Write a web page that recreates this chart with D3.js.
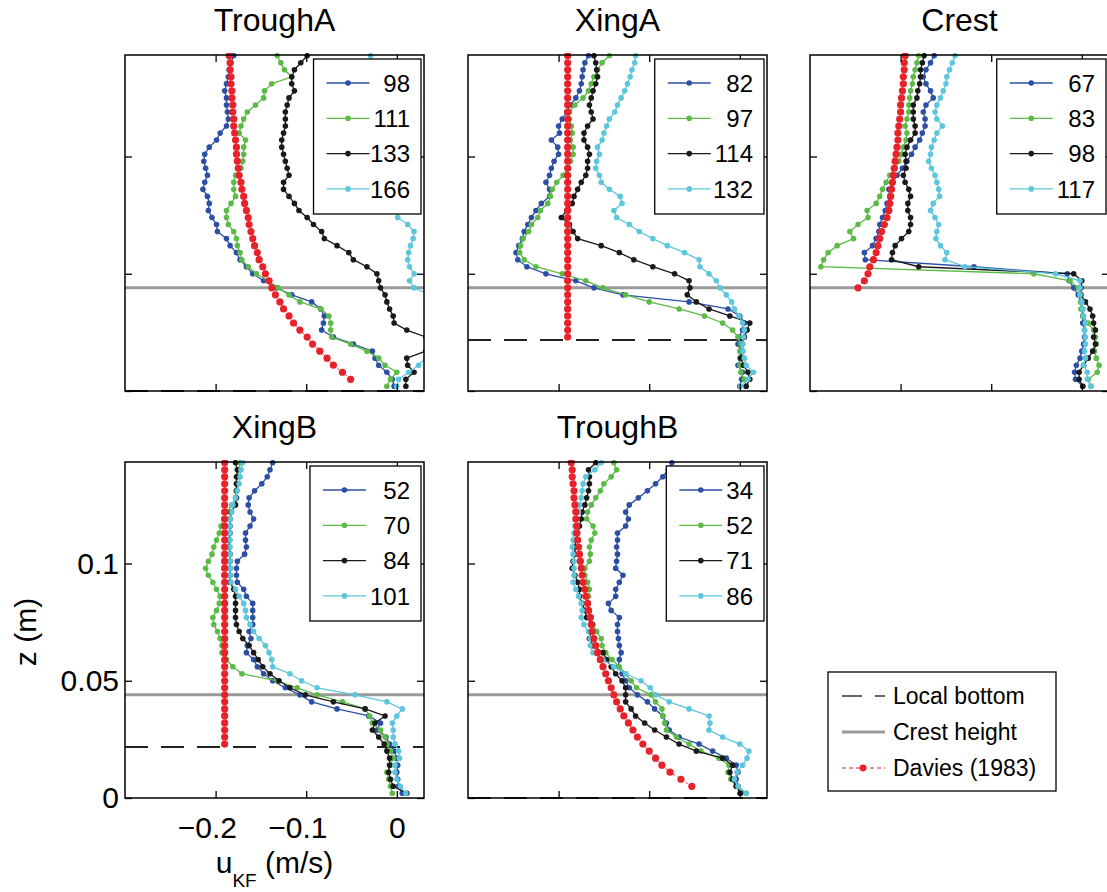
<!DOCTYPE html>
<html>
<head>
<meta charset="utf-8">
<script src="https://cdn.jsdelivr.net/npm/d3@7"></script>
<style>
  body { margin: 0; background: #fff; }
  text { font-family: "Liberation Sans", Arial, Helvetica, sans-serif; fill: #000; }
</style>
</head>
<body>
<main></main>
<script>
// measurement heights (m), shared by every profile
const zLevels = [
  0.002, 0.005, 0.008, 0.011, 0.014, 0.017, 0.020, 0.023, 0.026, 0.029,
  0.032, 0.035, 0.038, 0.041, 0.044, 0.047, 0.050, 0.053, 0.056, 0.059,
  0.062, 0.065, 0.068, 0.071, 0.074, 0.077, 0.080, 0.083, 0.086, 0.089,
  0.092, 0.095, 0.098, 0.101, 0.104, 0.107, 0.110, 0.113, 0.116, 0.119,
  0.122, 0.125, 0.128, 0.131, 0.134, 0.137, 0.140, 0.143
];
const crestHeight = 0.044;
const xTicks = [-0.2, -0.1, 0];
const yTicks = [0, 0.05, 0.1];
const panelTitles = ["TroughA", "XingA", "Crest", "XingB", "TroughB"];
const localBottoms = [0, 0.0217, null, 0.0217, 0];
const keyLabels = ["Local bottom", "Crest height", "Davies (1983)"];

// ---- TroughA
const troughALabels = ["98", "111", "133", "166"];
const troughA98 = [
  -0.003, -0.005, -0.011, -0.020, -0.024, -0.027, -0.048, -0.070, -0.083, -0.081,
  -0.080, -0.084, -0.094, -0.116, -0.133, -0.147, -0.159, -0.166, -0.173, -0.177,
  -0.184, -0.188, -0.198, -0.199, -0.204, -0.208, -0.207, -0.209, -0.214, -0.212,
  -0.209, -0.211, -0.213, -0.212, -0.207, -0.199, -0.195, -0.188, -0.186, -0.187,
  -0.188, -0.188, -0.190, -0.188, -0.186, -0.185, -0.183, -0.180
];
const troughA111 = [
  -0.011, -0.007, 0.000, -0.013, -0.020, -0.033, -0.051, -0.072, -0.073, -0.073,
  -0.075, -0.084, -0.107, -0.119, -0.131, -0.142, -0.155, -0.164, -0.171, -0.173,
  -0.176, -0.177, -0.180, -0.186, -0.188, -0.188, -0.183, -0.178, -0.180, -0.180,
  -0.178, -0.172, -0.170, -0.169, -0.169, -0.167, -0.174, -0.172, -0.169, -0.165,
  -0.156, -0.147, -0.146, -0.138, -0.116, -0.124, -0.128, -0.132
];
const troughA133 = [
  0.010, 0.010, 0.019, 0.012, 0.011, 0.032, 0.045, 0.032, 0.011, -0.003,
  -0.004, -0.008, -0.011, -0.013, -0.018, -0.020, -0.022, -0.033, -0.048, -0.053,
  -0.066, -0.080, -0.083, -0.092, -0.099, -0.108, -0.113, -0.119, -0.125, -0.125,
  -0.119, -0.121, -0.123, -0.125, -0.127, -0.127, -0.125, -0.123, -0.123, -0.123,
  -0.121, -0.119, -0.113, -0.116, -0.116, -0.113, -0.106, -0.099
];
const troughA166 = [
  0.000, 0.002, 0.013, 0.024, 0.032, 0.039, 0.045, 0.048, 0.050, 0.048,
  0.045, 0.040, 0.035, 0.036, 0.019, 0.014, 0.019, 0.014, 0.012, 0.013,
  0.015, 0.018, 0.019, 0.012, 0.001, 0.000, -0.004, -0.006, -0.008, -0.010,
  -0.008, -0.012, -0.014, -0.012, -0.016, -0.018, -0.015, -0.020, -0.022, -0.020,
  -0.024, -0.022, -0.025, -0.026, -0.024, -0.027, -0.028, -0.029
];
const troughADavies = [
  null, -0.051, -0.060, -0.070, -0.077, -0.085, -0.093, -0.099, -0.107, -0.114,
  -0.119, -0.125, -0.129, -0.134, -0.138, -0.141, -0.145, -0.148, -0.152, -0.154,
  -0.157, -0.159, -0.161, -0.163, -0.164, -0.166, -0.168, -0.169, -0.171, -0.172,
  -0.174, -0.175, -0.176, -0.177, -0.177, -0.178, -0.179, -0.180, -0.180, -0.181,
  -0.181, -0.182, -0.182, -0.183, -0.183, -0.184, -0.184, -0.185
];

// ---- XingA
const xingALabels = ["82", "97", "114", "132"];
const xingA82 = [
  0.000, 0.002, 0.003, -0.002, 0.001, 0.001, -0.002, -0.001, 0.003, 0.005,
  0.000, -0.013, -0.056, -0.129, -0.161, -0.181, -0.214, -0.235, -0.245, -0.247,
  -0.244, -0.240, -0.238, -0.234, -0.230, -0.225, -0.219, -0.210, -0.210, -0.214,
  -0.210, -0.208, -0.205, -0.200, -0.201, -0.208, -0.199, -0.200, -0.196, -0.191,
  -0.187, -0.181, -0.177, -0.175, -0.174, -0.173, -0.171, -0.167
];
const xingA97 = [
  0.007, 0.005, 0.001, 0.000, 0.000, 0.000, 0.001, -0.002, -0.008, -0.019,
  -0.039, -0.067, -0.100, -0.126, -0.151, -0.170, -0.196, -0.225, -0.238, -0.243,
  -0.242, -0.239, -0.233, -0.230, -0.223, -0.220, -0.212, -0.209, -0.207, -0.202,
  -0.195, -0.189, -0.187, -0.184, -0.184, -0.187, -0.185, -0.186, -0.188, -0.188,
  -0.182, -0.173, -0.167, -0.164, -0.161, -0.157, -0.152, -0.144
];
const xingA114 = [
  0.007, 0.011, 0.009, 0.004, 0.001, 0.003, 0.003, 0.005, 0.008, 0.011,
  -0.011, -0.034, -0.048, -0.058, -0.055, -0.056, -0.072, -0.096, -0.117, -0.133,
  -0.153, -0.179, -0.184, -0.188, -0.197, -0.191, -0.185, -0.183, -0.179, -0.175,
  -0.170, -0.168, -0.168, -0.166, -0.168, -0.172, -0.172, -0.168, -0.162, -0.164,
  -0.166, -0.164, -0.162, -0.159, -0.157, -0.158, -0.159, -0.161
];
const xingA132 = [
  0.001, 0.009, 0.015, 0.007, 0.005, 0.003, 0.003, 0.004, 0.005, 0.003,
  -0.001, -0.006, -0.009, -0.015, -0.022, -0.026, -0.034, -0.044, -0.045, -0.061,
  -0.080, -0.096, -0.111, -0.122, -0.136, -0.139, -0.130, -0.132, -0.144, -0.153,
  -0.155, -0.159, -0.158, -0.155, -0.157, -0.152, -0.150, -0.147, -0.144, -0.138,
  -0.135, -0.131, -0.127, -0.124, -0.121, -0.119, -0.116, -0.115
];
const xingADavies = [
  null, null, null, null, null, null, null, -0.190, -0.190, -0.190,
  -0.190, -0.190, -0.190, -0.190, -0.190, -0.190, -0.190, -0.190, -0.190, -0.190,
  -0.190, -0.190, -0.190, -0.190, -0.190, -0.190, -0.190, -0.190, -0.190, -0.190,
  -0.190, -0.190, -0.190, -0.190, -0.190, -0.190, -0.190, -0.190, -0.190, -0.190,
  -0.190, -0.190, -0.190, -0.190, -0.190, -0.190, -0.190, -0.190
];

// ---- Crest
const crestLabels = ["67", "83", "98", "117"];
const crest67 = [
  0.001, -0.007, -0.008, -0.006, -0.002, 0.000, 0.002, 0.003, 0.003, 0.001,
  0.001, 0.001, -0.001, -0.004, -0.009, -0.014, -0.016, -0.119, -0.239, -0.240,
  -0.231, -0.227, -0.224, -0.223, -0.220, -0.217, -0.215, -0.212, -0.213, -0.209,
  -0.204, -0.198, -0.193, -0.188, -0.184, -0.179, -0.176, -0.173, -0.173, -0.175,
  -0.172, -0.164, -0.167, -0.172, -0.175, -0.172, -0.167, -0.163
];
const crest83 = [
  0.010, 0.007, 0.017, 0.019, 0.016, 0.014, 0.016, 0.015, 0.013, 0.007,
  0.001, -0.001, -0.001, -0.002, -0.004, -0.013, -0.053, -0.288, -0.285, -0.280,
  -0.270, -0.252, -0.256, -0.247, -0.236, -0.237, -0.227, -0.223, -0.220, -0.216,
  -0.212, -0.206, -0.202, -0.199, -0.197, -0.194, -0.193, -0.195, -0.193, -0.191,
  -0.191, -0.190, -0.189, -0.187, -0.186, -0.184, -0.182, -0.180
];
const crest98 = [
  0.001, -0.003, -0.003, 0.002, 0.007, 0.012, 0.015, 0.013, 0.015, 0.013,
  0.012, 0.009, 0.004, -0.001, -0.001, 0.000, -0.009, -0.180, -0.210, -0.209,
  -0.206, -0.199, -0.191, -0.189, -0.189, -0.192, -0.192, -0.189, -0.191, -0.195,
  -0.197, -0.194, -0.194, -0.195, -0.193, -0.189, -0.184, -0.184, -0.186, -0.186,
  -0.186, -0.182, -0.181, -0.179, -0.178, -0.178, -0.176, -0.174
];
const crest117 = [
  0.010, 0.006, 0.006, 0.002, 0.004, 0.003, 0.004, 0.004, 0.003, 0.004,
  0.002, 0.001, 0.000, -0.002, -0.002, -0.002, -0.029, -0.129, -0.151, -0.149,
  -0.156, -0.161, -0.160, -0.158, -0.162, -0.167, -0.164, -0.157, -0.158, -0.160,
  -0.162, -0.166, -0.169, -0.167, -0.166, -0.163, -0.160, -0.154, -0.160, -0.162,
  -0.160, -0.156, -0.153, -0.150, -0.149, -0.146, -0.143, -0.140
];
const crestDavies = [
  null, null, null, null, null, null, null, null, null, null,
  null, null, null, null, -0.247, -0.240, -0.236, -0.234, -0.230, -0.227,
  -0.225, -0.223, -0.221, -0.218, -0.215, -0.213, -0.212, -0.211, -0.210, -0.209,
  -0.208, -0.207, -0.206, -0.205, -0.204, -0.203, -0.203, -0.202, -0.201, -0.200,
  -0.200, -0.199, -0.198, -0.197, -0.197, -0.196, -0.196, -0.195
];

// ---- XingB
const xingBLabels = ["52", "70", "84", "101"];
const xingB52 = [
  0.006, 0.002, 0.001, 0.000, 0.001, 0.000, -0.003, -0.008, -0.012, -0.022,
  -0.018, -0.031, -0.066, -0.094, -0.107, -0.123, -0.137, -0.147, -0.154, -0.158,
  -0.166, -0.165, -0.161, -0.163, -0.159, -0.159, -0.159, -0.159, -0.166, -0.169,
  -0.176, -0.177, -0.177, -0.176, -0.168, -0.166, -0.167, -0.167, -0.162, -0.158,
  -0.162, -0.164, -0.163, -0.157, -0.149, -0.143, -0.140, -0.137
];
const xingB70 = [
  -0.005, -0.007, -0.009, -0.011, -0.007, -0.004, -0.007, -0.011, -0.013, -0.018,
  -0.027, -0.030, -0.035, -0.060, -0.088, -0.110, -0.132, -0.171, -0.181, -0.188,
  -0.193, -0.193, -0.195, -0.198, -0.202, -0.203, -0.199, -0.196, -0.195, -0.199,
  -0.203, -0.208, -0.211, -0.208, -0.204, -0.202, -0.199, -0.196, -0.194, -0.191,
  -0.188, -0.182, -0.178, -0.177, -0.177, -0.176, -0.174, -0.173
];
const xingB84 = [
  0.011, -0.004, -0.007, -0.009, -0.008, -0.008, -0.011, -0.014, -0.020, -0.027,
  -0.024, -0.013, -0.035, -0.070, -0.101, -0.118, -0.130, -0.140, -0.148, -0.153,
  -0.158, -0.163, -0.170, -0.174, -0.177, -0.178, -0.178, -0.178, -0.178, -0.180,
  -0.184, -0.184, -0.184, -0.184, -0.184, -0.185, -0.185, -0.184, -0.184, -0.184,
  -0.183, -0.178, -0.177, -0.177, -0.177, -0.177, -0.176, -0.178
];
const xingB101 = [
  0.010, 0.004, 0.000, -0.002, -0.002, 0.003, 0.002, -0.002, -0.004, -0.004,
  -0.005, 0.000, 0.006, -0.011, -0.046, -0.088, -0.105, -0.118, -0.137, -0.138,
  -0.141, -0.145, -0.152, -0.158, -0.162, -0.166, -0.167, -0.169, -0.174, -0.178,
  -0.183, -0.184, -0.184, -0.184, -0.184, -0.184, -0.184, -0.184, -0.184, -0.184,
  -0.182, -0.181, -0.178, -0.176, -0.174, -0.173, -0.172, -0.170
];
const xingBDavies = [
  null, null, null, null, null, null, null, -0.190, -0.190, -0.190,
  -0.190, -0.190, -0.190, -0.190, -0.190, -0.190, -0.190, -0.190, -0.190, -0.190,
  -0.190, -0.190, -0.190, -0.190, -0.190, -0.190, -0.190, -0.190, -0.190, -0.190,
  -0.190, -0.190, -0.190, -0.190, -0.190, -0.190, -0.190, -0.190, -0.190, -0.190,
  -0.190, -0.190, -0.190, -0.190, -0.190, -0.190, -0.190, -0.190
];

// ---- TroughB
const troughBLabels = ["34", "52", "71", "86"];
const troughB34 = [
  0.000, -0.002, -0.004, -0.002, -0.004, -0.015, -0.030, -0.045, -0.067, -0.078,
  -0.081, -0.085, -0.094, -0.102, -0.113, -0.122, -0.126, -0.130, -0.134, -0.133,
  -0.131, -0.133, -0.134, -0.135, -0.135, -0.133, -0.142, -0.145, -0.137, -0.137,
  -0.133, -0.129, -0.137, -0.136, -0.135, -0.136, -0.135, -0.135, -0.126, -0.123,
  -0.126, -0.122, -0.112, -0.102, -0.093, -0.085, -0.079, -0.075
];
const troughB52 = [
  0.007, -0.004, -0.010, -0.013, -0.012, -0.023, -0.043, -0.056, -0.070, -0.081,
  -0.083, -0.085, -0.086, -0.093, -0.098, -0.114, -0.120, -0.126, -0.133, -0.141,
  -0.148, -0.152, -0.153, -0.158, -0.162, -0.164, -0.166, -0.168, -0.167, -0.166,
  -0.168, -0.171, -0.171, -0.166, -0.165, -0.166, -0.164, -0.160, -0.162, -0.169,
  -0.168, -0.164, -0.159, -0.154, -0.150, -0.142, -0.136, -0.139
];
const troughB71 = [
  0.001, -0.004, -0.008, -0.011, -0.008, -0.019, -0.048, -0.067, -0.081, -0.094,
  -0.105, -0.115, -0.120, -0.126, -0.126, -0.126, -0.130, -0.137, -0.142, -0.147,
  -0.151, -0.162, -0.166, -0.164, -0.163, -0.169, -0.171, -0.174, -0.177, -0.177,
  -0.179, -0.182, -0.185, -0.184, -0.182, -0.182, -0.181, -0.179, -0.177, -0.175,
  -0.174, -0.171, -0.169, -0.167, -0.166, -0.166, -0.167, -0.159
];
const troughB86 = [
  0.007, -0.002, -0.006, -0.003, 0.003, 0.008, 0.010, 0.000, -0.019, -0.034,
  -0.033, -0.034, -0.056, -0.078, -0.093, -0.099, -0.109, -0.126, -0.139, -0.151,
  -0.162, -0.165, -0.165, -0.167, -0.172, -0.175, -0.174, -0.175, -0.178, -0.181,
  -0.184, -0.183, -0.183, -0.183, -0.184, -0.185, -0.184, -0.183, -0.182, -0.180,
  -0.178, -0.177, -0.175, -0.174, -0.173, -0.170, -0.160, -0.153
];
const troughBDavies = [
  null, -0.053, -0.065, -0.077, -0.086, -0.093, -0.100, -0.107, -0.113, -0.118,
  -0.123, -0.128, -0.132, -0.136, -0.139, -0.142, -0.145, -0.148, -0.151, -0.154,
  -0.157, -0.159, -0.161, -0.163, -0.164, -0.165, -0.167, -0.168, -0.170, -0.171,
  -0.173, -0.174, -0.175, -0.176, -0.177, -0.178, -0.179, -0.180, -0.180, -0.181,
  -0.181, -0.182, -0.183, -0.183, -0.184, -0.185, -0.185, -0.186
];

const seriesColors = ["#2c4fa6", "#5cba46", "#1a1a1a", "#5cc7dc"];
const daviesColor = "#e8222b";

const panels = [
  { title: panelTitles[0], col: 0, row: 0, labels: troughALabels, series: [troughA98, troughA111, troughA133, troughA166], davies: troughADavies, bottom: localBottoms[0] },
  { title: panelTitles[1], col: 1, row: 0, labels: xingALabels, series: [xingA82, xingA97, xingA114, xingA132], davies: xingADavies, bottom: localBottoms[1] },
  { title: panelTitles[2], col: 2, row: 0, labels: crestLabels, series: [crest67, crest83, crest98, crest117], davies: crestDavies, bottom: localBottoms[2] },
  { title: panelTitles[3], col: 0, row: 1, labels: xingBLabels, series: [xingB52, xingB70, xingB84, xingB101], davies: xingBDavies, bottom: localBottoms[3], axisLabels: true },
  { title: panelTitles[4], col: 1, row: 1, labels: troughBLabels, series: [troughB34, troughB52, troughB71, troughB86], davies: troughBDavies, bottom: localBottoms[4] }
];

const width = 1107;
const height = 892;
const panelW = 299;
const panelH = 336;
const colLeft = [125, 468, 810];
const rowTop = [55, 462];

const xScale = d3.scaleLinear().domain([-0.3, 0.03]).range([0, panelW]);
const yScale = d3.scaleLinear().domain([0, 0.1433]).range([panelH, 0]);

const line = d3.line()
  .defined(d => d.u != null)
  .x(d => xScale(d.u))
  .y(d => yScale(d.z));

const fmt = d => d < 0 ? "\u2212" + Math.abs(d) : String(d);

const svg = d3.select("main")
  .append("svg")
  .attr("width", width)
  .attr("height", height);

panels.forEach((p, pi) => {
  const g = svg.append("g")
    .attr("transform", `translate(${colLeft[p.col]},${rowTop[p.row]})`);

  g.append("clipPath")
    .attr("id", "clip" + pi)
    .append("rect")
    .attr("x", 0).attr("y", -2)
    .attr("width", panelW).attr("height", panelH + 4);

  const plot = g.append("g").attr("clip-path", `url(#clip${pi})`);

  plot.append("line")
    .attr("x1", 0).attr("x2", panelW)
    .attr("y1", yScale(crestHeight)).attr("y2", yScale(crestHeight))
    .attr("stroke", "#9a9a9a")
    .attr("stroke-width", 3);

  if (p.bottom != null) {
    plot.append("line")
      .attr("x1", 0).attr("x2", panelW)
      .attr("y1", yScale(p.bottom)).attr("y2", yScale(p.bottom))
      .attr("stroke", "#222")
      .attr("stroke-width", 2)
      .attr("stroke-dasharray", "23,13");
  }

  p.series.forEach((s, si) => {
    const pts = zLevels.map((z, i) => ({ z: z, u: s[i] }));
    plot.append("path")
      .datum(pts)
      .attr("d", line)
      .attr("fill", "none")
      .attr("stroke", seriesColors[si])
      .attr("stroke-width", 1.3);
    plot.append("g")
      .selectAll("circle")
      .data(pts.filter(d => d.u != null))
      .enter()
      .append("circle")
      .attr("cx", d => xScale(d.u))
      .attr("cy", d => yScale(d.z))
      .attr("r", 2.8)
      .attr("fill", seriesColors[si]);
  });

  const dav = zLevels.map((z, i) => ({ z: z, u: p.davies[i] }));
  plot.append("path")
    .datum(dav)
    .attr("d", line)
    .attr("fill", "none")
    .attr("stroke", daviesColor)
    .attr("stroke-width", 1)
    .attr("stroke-dasharray", "2,3");
  plot.append("g")
    .selectAll("circle")
    .data(dav.filter(d => d.u != null))
    .enter()
    .append("circle")
    .attr("cx", d => xScale(d.u))
    .attr("cy", d => yScale(d.z))
    .attr("r", 3.6)
    .attr("fill", daviesColor);

  // axes box with inward ticks on every side
  const axes = [
    [d3.axisBottom(xScale).tickValues(xTicks), `translate(0,${panelH})`],
    [d3.axisTop(xScale).tickValues(xTicks), "translate(0,0)"],
    [d3.axisLeft(yScale).tickValues(yTicks), "translate(0,0)"],
    [d3.axisRight(yScale).tickValues(yTicks), `translate(${panelW},0)`]
  ];
  axes.forEach(([ax, tr], ai) => {
    const showText = p.axisLabels && (ai === 0 || ai === 2);
    ax.tickSizeInner(-7).tickSizeOuter(0)
      .tickFormat(showText ? fmt : "");
    if (ai === 0) ax.tickPadding(19);
    if (ai === 2) ax.tickPadding(6);
    const a = g.append("g").attr("transform", tr).call(ax);
    a.select(".domain").remove();
    a.selectAll(".tick line").attr("stroke", "#000").attr("stroke-width", 1.3);
    a.selectAll(".tick text")
      .attr("font-size", 30)
      .attr("font-family", "Liberation Sans, Arial, sans-serif")
      .attr("fill", "#000");
    if (ai === 0 && showText) {
      a.selectAll(".tick text").attr("dx", d => d < 0 ? -8.8 : 0);
    }
  });

  g.append("rect")
    .attr("width", panelW).attr("height", panelH)
    .attr("fill", "none")
    .attr("stroke", "#000")
    .attr("stroke-width", 1.5);

  g.append("text")
    .attr("x", panelW / 2)
    .attr("y", -24)
    .attr("text-anchor", "middle")
    .attr("font-size", 32)
    .text(p.title);

  // series legend
  const leg = g.append("g");
  const probe = leg.append("text").attr("font-size", 24)
    .text(p.labels.reduce((a, b) => b.length > a.length ? b : a, ""));
  const maxLen = probe.node().getComputedTextLength();
  probe.remove();
  const lw = 71 + maxLen;
  const lx = panelW - 3 - lw;
  const ly = 4;
  leg.append("rect")
    .attr("x", lx).attr("y", ly)
    .attr("width", lw).attr("height", 155)
    .attr("fill", "#fff")
    .attr("stroke", "#000")
    .attr("stroke-width", 1.3);
  p.labels.forEach((lab, li) => {
    const ry = ly + 24 + li * 35.3;
    leg.append("line")
      .attr("x1", lx + 13).attr("x2", lx + 56)
      .attr("y1", ry).attr("y2", ry)
      .attr("stroke", seriesColors[li])
      .attr("stroke-width", 1.3);
    leg.append("circle")
      .attr("cx", lx + 34.5).attr("cy", ry)
      .attr("r", 2.8)
      .attr("fill", seriesColors[li]);
    leg.append("text")
      .attr("x", lx + lw - 11)
      .attr("y", ry + 8.6)
      .attr("text-anchor", "end")
      .attr("font-size", 24)
      .text(lab);
  });
});

// axis titles on XingB
svg.append("text")
  .attr("transform", `translate(36,${rowTop[1] + panelH / 2 + 2}) rotate(-90)`)
  .attr("text-anchor", "middle")
  .attr("font-size", 30)
  .text("z (m)");

const xt = svg.append("text")
  .attr("x", colLeft[0] + panelW / 2)
  .attr("y", 873)
  .attr("text-anchor", "middle")
  .attr("font-size", 30);
xt.append("tspan").text("u");
xt.append("tspan").attr("dy", 14).attr("font-size", 19).text("KF");
xt.append("tspan").attr("dy", -14).text(" (m/s)");

// key for the reference lines
const key = svg.append("g").attr("transform", "translate(828,672)");
key.append("rect")
  .attr("width", 228).attr("height", 119)
  .attr("fill", "#fff")
  .attr("stroke", "#000")
  .attr("stroke-width", 1.3);
const keyRows = [24, 60, 96];
key.append("line")
  .attr("x1", 14).attr("x2", 57).attr("y1", keyRows[0]).attr("y2", keyRows[0])
  .attr("stroke", "#333").attr("stroke-width", 1.5)
  .attr("stroke-dasharray", "20,13");
key.append("line")
  .attr("x1", 14).attr("x2", 57).attr("y1", keyRows[1]).attr("y2", keyRows[1])
  .attr("stroke", "#9a9a9a").attr("stroke-width", 3);
key.append("line")
  .attr("x1", 14).attr("x2", 57).attr("y1", keyRows[2]).attr("y2", keyRows[2])
  .attr("stroke", daviesColor).attr("stroke-width", 1.2)
  .attr("stroke-dasharray", "4,3");
key.append("circle")
  .attr("cx", 35).attr("cy", keyRows[2]).attr("r", 3.4)
  .attr("fill", daviesColor);
keyLabels.forEach((lab, i) => {
  key.append("text")
    .attr("x", 65)
    .attr("y", keyRows[i] + 8.3)
    .attr("font-size", 23)
    .text(lab);
});
</script>
</body>
</html>
